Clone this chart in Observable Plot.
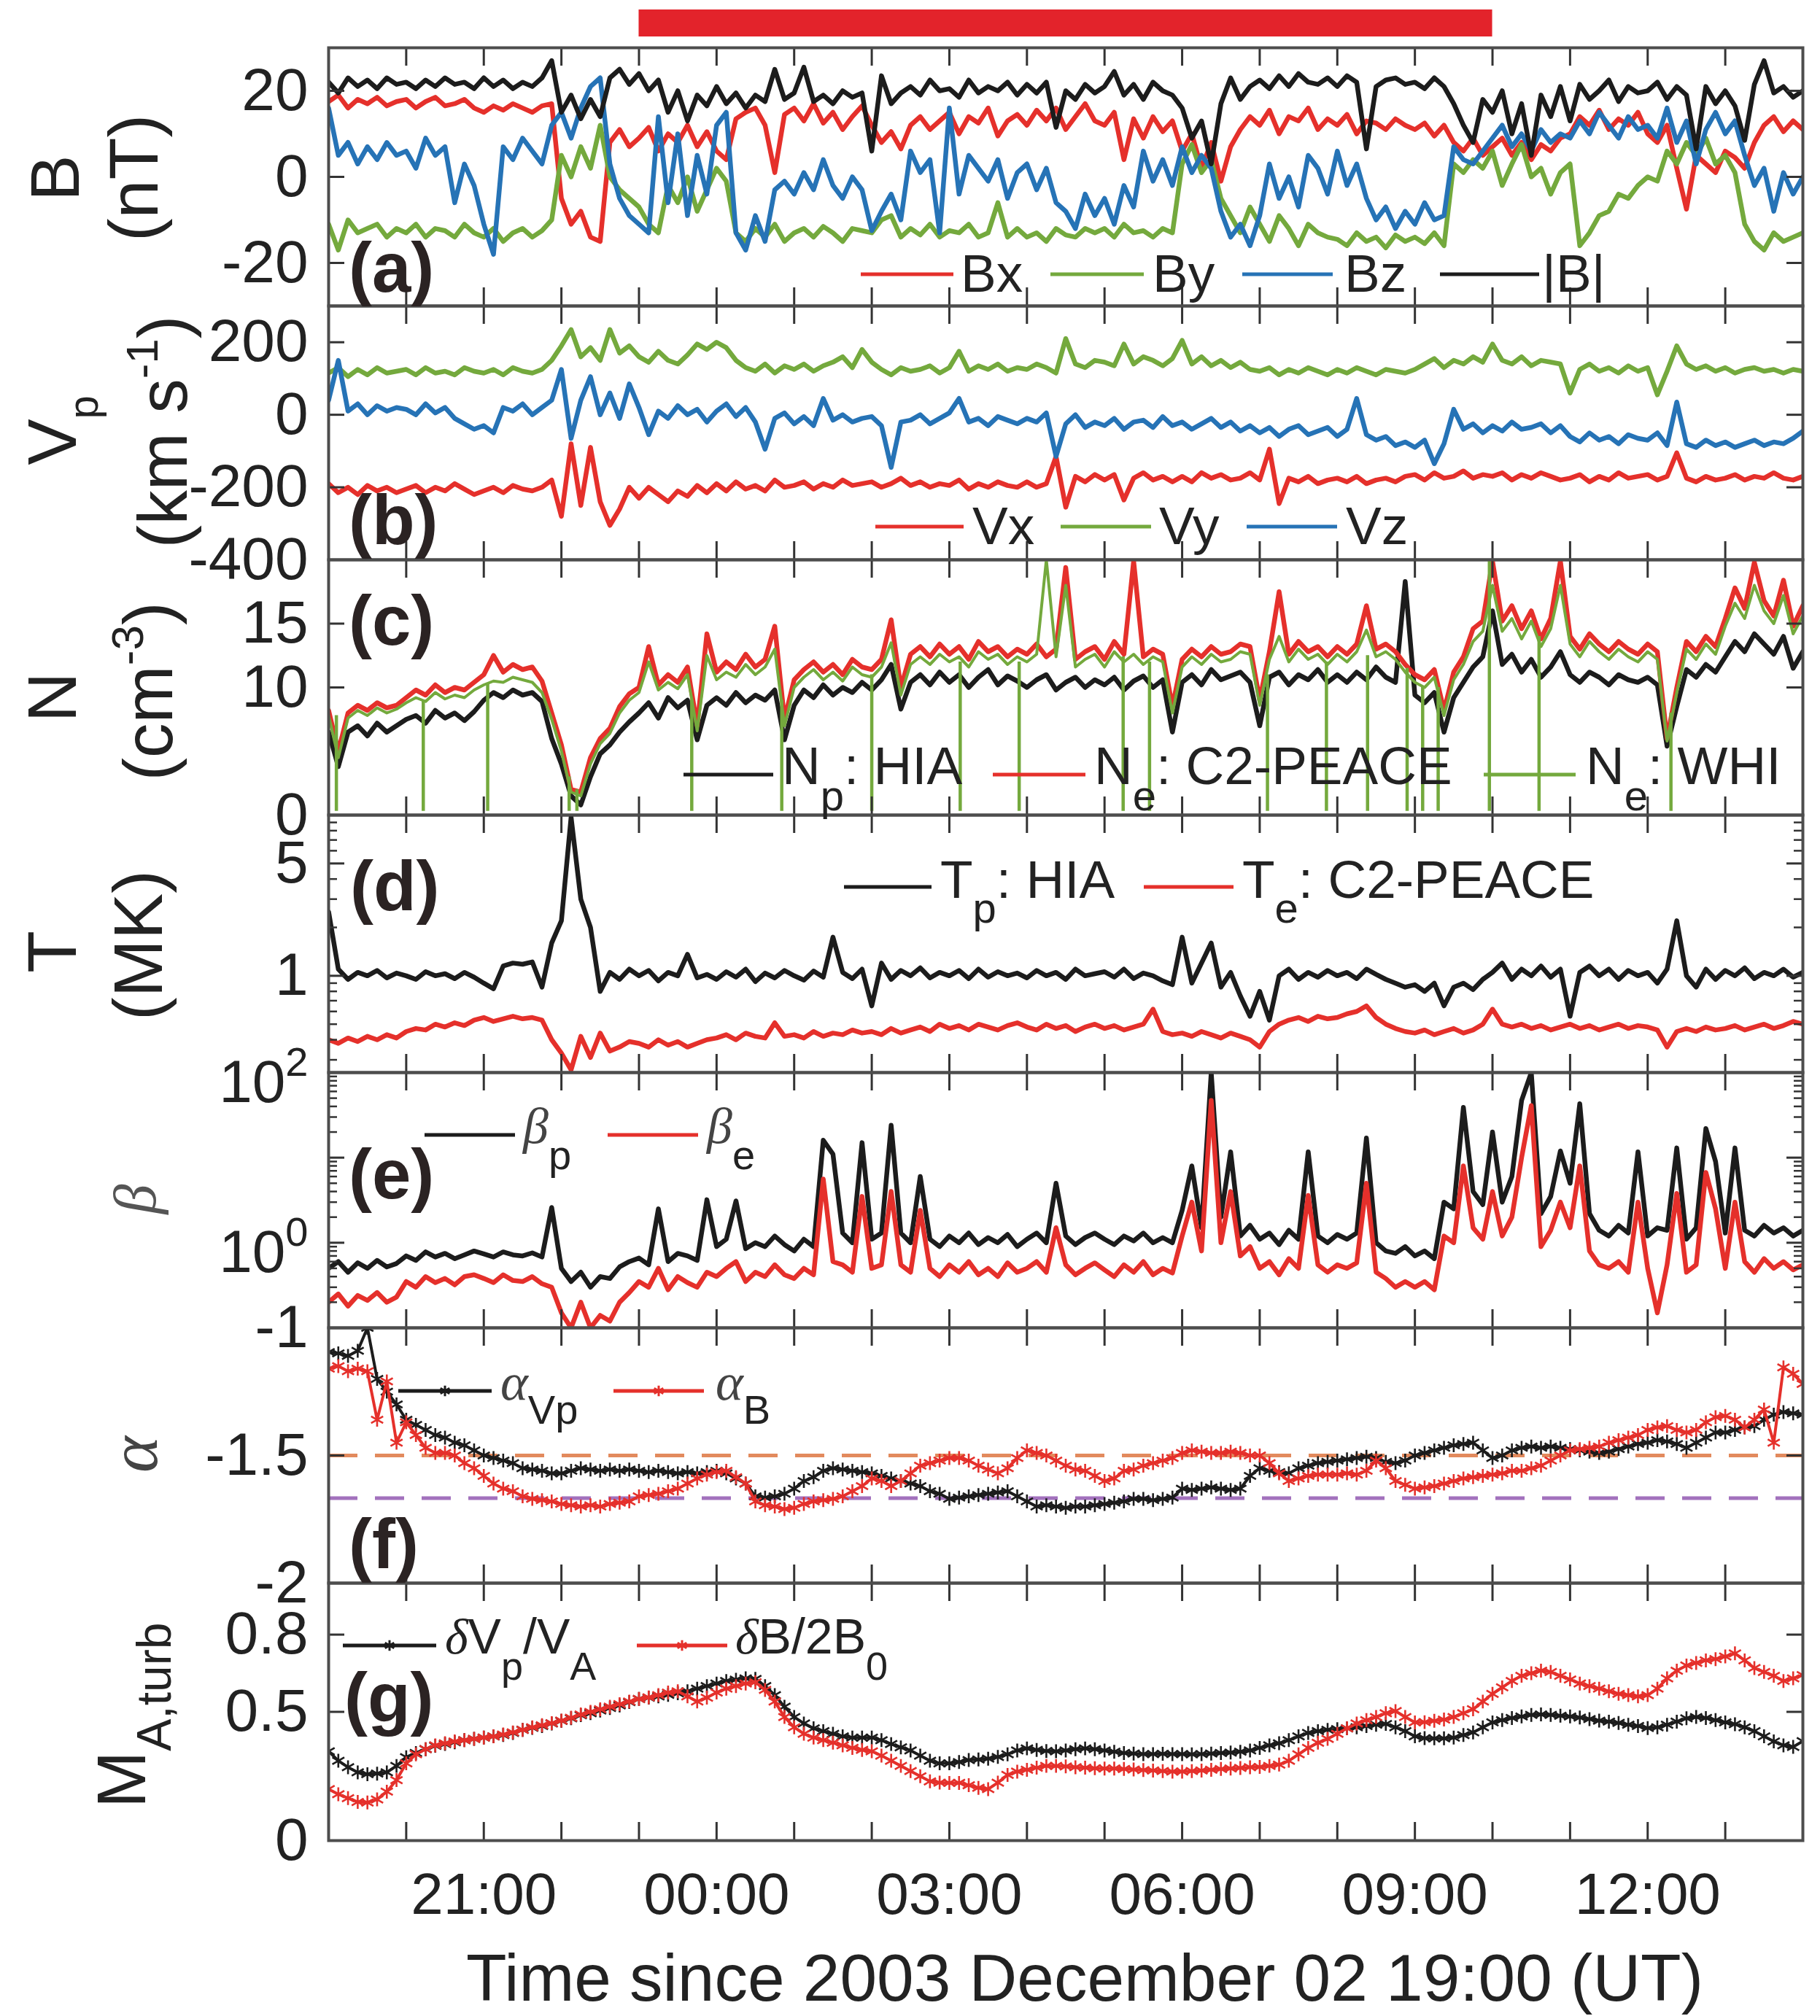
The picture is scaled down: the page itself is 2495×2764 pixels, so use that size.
<!DOCTYPE html>
<html><head><meta charset="utf-8">
<script src="https://cdn.jsdelivr.net/npm/d3@7"></script>
<script src="https://cdn.jsdelivr.net/npm/@observablehq/plot@0.6"></script>
<style>
body{margin:0;background:#fff;}
#page{position:relative;width:2495px;height:2764px;background:#fff;}
</style></head><body><div id="page"></div>
<script>
// ---------- data (hours since 2003-12-02 19:00 UT; samples every STEP hours) ----------
const STEP = 0.125;
const redBar = [{start: 4, end: 15}];           // 23:00 -> 10:00
const hourTicks = [1,2,3,4,5,6,7,8,9,10,11,12,13,14,15,16,17,18];
const timeTickHours = [2,5,8,11,14,17];
const timeTickLabels = ["21:00","00:00","03:00","06:00","09:00","12:00"];

// (a) magnetic field, nT
const bMag = [22,19.5,23,21,22.5,20.5,23,21.5, 22,20.5,22.5,21,23,21.5,22,20.5, 23,21,22.5,20.5,22,21,23,27,
  15,19,13.5,18,14,23,25,21.5, 24,20,22.5,15,20,13,19,16.5, 21,17,19.5,16,19,17.5,25,18,
  19.5,25.5,17.5,19,17,20,18.5,19.5, 6,23.5,17,19.5,21,19,22.5,20, 20.5,18.5,22.5,19.5,21,20,22,19,
  21.5,19.5,22,11.5,20,18,21.5,19.5, 21,24.5,19,21.5,18,22,20,19, 16,9,13,3,17,23,18,21,
  22.5,20.5,23.5,21,24,22,21.5,23, 21,23.5,22,6.5,21,22.5,23,21.5, 22,20.5,23,21,17,12,8,18,
  15,20,10,17,5,19,14,21, 13,21.5,18,20,22.5,17.5,21,19.5, 20,22,18,21,19,6.5,21,17,
  20,16.5,8.5,21.5,27,19.5,21,18.5, 20];
const bx = [17.5,19,16,18,17,18.5,16.5,17.5, 18,16,17.5,18.5,16.5,17,18,16, 15,16.5,15.5,17,16,15,16.5,17,
  -5,-11,-8,-14,-15,8,11,7, 9,11.5,6,10,8,12,7,10.5, 6,4,13.5,15,16,12,1,14.5,
  16,13,17,12.5,15,11,14,16.5, 12,8,10.5,6.5,12,14,11,13, 15,10,14,12.5,16,9.5,13,14.5,
  12,15.5,13,16,11,14,17,13, 12,15,4,13.5,9,14,10.5,13, 6,10,2,8,-1,7,11,14,
  12,15.5,10,14,13,16,11,13.5, 12,14.5,10,13,12.5,11,13.5,12, 11,12.5,9.5,12,8,6,9,5,
  7,9,5,8,4,7.5,6,9, 10,14,12,15.5,11,13.5,12,15, 10,8,12,2,-7.5,5,3,1,
  6,4.5,2,8,12,14,10.5,13, 11];
const by = [-11,-17,-10,-13,-12,-11,-14,-12, -13,-11,-14,-12,-12.5,-14,-11,-13, -14,-12,-15,-13,-12,-14,-12.5,-10,
  5,0,7,2,12,0,-3,-5, -7,-11,-13,-2,-6,0,-8,-3, 2,-1,-13,-15,-12,-14,-11,-15,
  -13,-12,-14,-11.5,-13,-15,-12,-12.5, -13,-10,-9,-14,-12,-13.5,-11,-14, -12.5,-13,-11,-14,-13,-6,-14,-12,
  -14,-13,-15,-12,-13.5,-14,-12,-13, -12,-14,-11,-13,-12.5,-14,-12,-13, 3,7.5,1,4,-5,-9,-13,-7,
  -11,-15,-9,-12,-16,-11,-13,-14, -14.5,-16,-13,-15,-14,-16.5,-13.5,-15, -14,-15.5,-13,-16,3,1,4,2,
  6,-2,3,7.5,0,2,-4,1, 3,-16,-13,-9,-8,-4,-5,-2, 0,-1,6,3,8,5,9,3,
  5,1,-11,-15,-17,-13,-15,-14, -13];
const bz = [16,5,8,3,7,4,8,5, 6,2,9,5,7,-6,3,-2, -11,-18,7,4,9,6,3,12,
  15,9,16,21,23,3,-5,-9, -11,-13,14,-6,10,-9,5,-4, 12,15,-13,-17,-9,-15,-3,-1,
  -4,1,-3,4,-2,-5,0,-3, -12.5,-8,-4,-10,6,1,4,-13, 16,-4,5,2,-1,4,-5,1,
  3,-3,2,-6,-8,-12,-4,-9, -5,-11,-2,-7,6,-1,4,-2, 7,1,5,2,-8,-14,-11,-16,
  -9,3,-5,0,-7,5,2,-4, 6,-2,3,-5,-10,-7,-12,-8, -11,-6,-10,-9,7,4,3,6,
  9,12,7,10,6,11,8,10, 9,13,10,15,12,9,14,11, 12,9,16,8,13,3,11,15,
  10,13,5,-2,2,-8,1,-4, 0];

// (b) proton velocity, km/s
const vx = [-190,-215,-200,-220,-195,-210,-200,-215, -205,-195,-215,-200,-210,-190,-205,-220, -210,-200,-215,-195,-205,-210,-200,-180,
  -280,-80,-250,-90,-240,-305,-260,-200, -230,-200,-220,-240,-210,-225,-195,-215, -190,-210,-185,-205,-195,-210,-180,-200,
  -195,-185,-205,-190,-200,-180,-195,-190, -185,-200,-190,-175,-195,-185,-200,-190, -195,-180,-205,-190,-200,-185,-195,-200,
  -185,-200,-190,-115,-255,-170,-185,-165, -180,-165,-235,-175,-160,-180,-170,-185, -170,-185,-160,-175,-165,-180,-175,-160,
  -180,-95,-245,-175,-185,-170,-190,-180, -175,-185,-170,-190,-180,-175,-185,-170, -165,-180,-160,-175,-170,-155,-175,-165,
  -170,-160,-180,-165,-175,-160,-170,-180, -175,-165,-185,-170,-180,-160,-175,-170, -165,-180,-170,-105,-175,-185,-170,-180,
  -175,-165,-180,-170,-175,-160,-175,-180, -170];
const vy = [115,130,105,125,110,130,115,120, 125,110,130,115,120,110,130,120, 115,125,110,130,120,115,125,150,
  190,235,160,185,150,235,170,190, 160,145,175,150,140,165,195,180, 200,185,150,130,120,140,115,135,
  125,140,120,135,145,160,130,180, 145,125,110,130,120,125,135,115, 130,175,120,135,125,140,120,130,
  125,140,130,115,210,140,130,150, 145,135,195,140,160,150,135,155, 205,140,160,135,150,130,145,125,
  120,130,110,125,115,130,120,110, 125,115,130,120,110,125,120,115, 125,140,155,130,150,140,160,145,
  195,150,140,160,135,150,145,140, 60,125,140,120,130,115,135,120, 130,55,120,190,140,125,135,120,
  130,115,125,130,120,125,115,125, 120];
const vz = [40,150,10,30,0,25,10,20, 15,0,30,5,20,-10,-25,-40, -30,-50,20,10,30,0,20,40,
  125,-65,40,105,0,60,-10,85, 20,-55,10,-10,25,0,15,-20, 10,30,-5,20,-20,-95,-10,5,
  -25,-5,-30,45,-15,0,-20,-10, -5,-30,-145,-20,-15,0,-25,-10, 5,45,-20,-10,-30,-5,-15,-25,
  -10,-20,5,-115,-25,0,-35,-20, -30,-10,-40,-20,-15,-35,-5,-30, -20,-40,-25,-10,-35,-20,-45,-30,
  -50,-35,-60,-40,-30,-55,-45,-35, -60,-40,45,-55,-70,-60,-85,-75, -90,-70,-135,-80,15,-40,-25,-50,
  -30,-45,-20,-40,-35,-25,-50,-30, -60,-75,-50,-70,-60,-80,-55,-65, -70,-50,-85,35,-80,-90,-70,-85,
  -75,-90,-80,-70,-85,-75,-80,-65, -45];

// (c) densities, cm^-3
const np = [6.5,3.8,6.5,7,6.2,7.2,6.5,7, 7.5,7.8,7.2,8.2,7.6,8,7.4,8.1, 9,9.6,9.2,9.8,9.4,9.6,8.9,6,
  4,1.5,0.8,3,4.8,5.5,6.5,7.3, 8,8.8,7.6,9.2,8.4,9,5.9,8.6, 9.2,8.6,9.6,8.8,9.4,9,9.8,5.9,
  8.6,9.8,9.2,10.2,9.4,10,9.6,10.4, 9.8,10.6,11.8,8.3,10.4,11,10.2,11.2, 10.4,11,10,10.8,11.4,10.2,10.9,10.5,
  10,10.6,11,9.8,10.4,10.8,10,10.6, 10.2,10.8,9.8,10.5,10.9,10,10.6,6.5, 10.4,11,10.2,11.4,10.6,10.9,11.2,10.4,
  7,10.8,11.2,10.2,11,10.6,11.4,10.4, 11,10.4,11.2,10.6,11.6,10.8,10.4,18.3, 9.4,8.8,9.6,6.5,9.2,10.4,11.6,12.4,
  16,11.8,12.6,11.2,12.2,10.8,11.6,12.8, 11,10.4,11.2,10.8,10.2,11,10.6,10.4, 10.8,10.2,5.4,8.5,11.4,10.8,11.8,11.2,
  12.4,13.6,12.8,14.2,13.4,12.6,14,11.5, 12.8];
const nePeace = [8.2,5,8,8.6,8.2,8.8,8.4,8.6, 9.2,9.8,9.4,10.2,9.6,10,9.8,10.4, 11,12.5,11.2,11.8,11.4,11.6,10.5,8,
  5.5,2,1.8,4.5,6,6.8,8.5,9.5, 10,13.2,10.2,11,10.4,11.6,7,14.2, 11.2,12,11.4,12.6,11.6,12.2,14.8,7.5,
  10.6,11.4,12,11.2,11.8,11,12.2,11.6, 11.4,12.2,15.3,10,12.6,13.2,12.4,13.4, 12.6,13.2,12.2,13.6,12.8,13.2,12.4,13,
  12.6,13.4,12.4,13,19.4,12.2,12.8,13.2, 12.2,13.6,12.6,19.9,12.4,13,12.6,8.5, 12.2,13,12.4,13.2,12.6,12.8,13.4,13.2,
  9,12.8,17.5,12.6,13.6,12.8,13.2,12.4, 13.2,12.6,13.4,16.4,13,13.4,12.8,11.8, 11,10.6,11.4,8.2,11.2,12.4,14.6,15.2,
  19.9,15.2,16.4,14.6,16,13.8,15.4,19.9, 14,13,14.2,13.4,12.8,13.6,13,12.6, 13.4,12.8,6,10,13.6,12.8,14,13.2,
  15.4,17.8,16.2,19.8,16.8,15.6,18.4,14.8, 16.4];
const neWhi = [7.8,4.5,7.6,8.2,7.8,8.4,8,8.3, 8.8,9.2,8.9,9.6,9.1,9.4,9.2,9.8, 10.2,10.5,10.4,10.8,10.6,10.4,9.6,7.5,
  5,1.8,1.5,4,5.6,6.4,8,9, 9.6,12,9.8,10.4,9.9,11,6.6,12.5, 10.6,11.2,10.8,11.8,11,11.6,13,7,
  10,10.8,11.4,10.6,11.2,10.5,11.6,11, 10.8,11.6,13.5,9.4,11.8,12.4,11.8,12.6, 12,12.4,11.6,12.8,12.2,12.6,11.8,12.4,
  12,12.6,20,12.4,18,11.6,12.2,12.6, 11.6,12.8,12,12.6,11.8,12.4,12,8, 11.6,12.4,11.8,12.6,12,12.2,12.8,12.6,
  8.6,12.2,14,12,13,12.2,12.6,11.8, 12.6,12,12.8,14.5,12.4,12.8,12.2,11.2, 10.4,10,10.8,7.8,10.6,11.8,13.6,14.4,
  18,14.4,15.4,13.8,15.2,13.2,14.6,18, 13.4,12.4,13.6,12.8,12.2,13,12.4,12, 12.8,12.2,5.8,9.6,13,12.2,13.4,12.6,
  14.8,16.6,15.4,18,16,15,17.2,14.2, 15.6];
const whiDropTimes = [0.1,1.22,2.05,3.1,3.2,4.68,5.84,7.0,8.14,8.9,10.24,10.58,12.1,12.86,13.39,13.9,14.1,14.3,14.96,15.6,17.3];
const whiDropTops  = [7.8,9,10.3,3,2,9,9,11,12,12,12.4,12,11,12,12.5,11.5,10,10,20,14,8];

// (d) temperatures, MK
const tp = [2.5,1.1,0.95,1.05,1.0,1.08,0.97,1.04, 1.0,0.95,1.06,1.0,1.03,0.96,1.05,0.98, 0.9,0.83,1.15,1.2,1.18,1.22,0.85,1.6,
  2.2,9.7,3,2.0,0.8,1.05,0.95,1.1, 1.0,1.08,0.93,1.05,1.0,1.36,0.97,1.02, 0.95,1.06,0.98,1.1,0.92,1.04,0.97,1.08,
  1.0,0.94,1.07,0.98,1.74,1.05,0.96,1.1, 0.65,1.2,0.95,1.08,1.0,1.12,0.97,1.05, 1.0,1.08,0.96,1.1,0.98,1.06,1.0,1.04,
  0.97,1.08,1.0,1.05,0.95,1.1,1.0,1.03, 1.06,0.98,1.1,0.96,1.04,1.0,0.93,0.88, 1.74,0.9,1.2,1.6,0.85,1.05,0.75,0.56,
  0.8,0.53,1.0,1.1,0.95,1.05,0.98,1.08, 1.0,1.05,0.96,1.1,1.02,0.95,0.9,0.85, 0.88,0.8,0.9,0.65,0.85,0.9,0.82,0.95,
  1.05,1.2,0.95,1.1,1.0,1.15,0.98,1.1, 0.56,1.05,1.15,1.0,1.1,0.95,1.08,1.0, 1.05,0.9,1.1,2.2,1.0,0.85,1.1,0.95,
  1.08,1.0,1.12,0.96,1.05,1.0,1.1,0.98, 1.05];
const te = [0.4,0.38,0.41,0.39,0.42,0.4,0.43,0.41, 0.45,0.47,0.46,0.5,0.48,0.51,0.49,0.53, 0.55,0.52,0.54,0.56,0.54,0.55,0.53,0.4,
  0.33,0.26,0.42,0.31,0.44,0.34,0.36,0.39, 0.38,0.36,0.4,0.37,0.39,0.36,0.38,0.4, 0.41,0.43,0.4,0.44,0.42,0.41,0.51,0.42,
  0.43,0.41,0.45,0.42,0.44,0.43,0.46,0.44, 0.45,0.43,0.47,0.44,0.46,0.48,0.45,0.5, 0.47,0.49,0.46,0.5,0.48,0.46,0.49,0.51,
  0.48,0.46,0.5,0.47,0.49,0.45,0.48,0.5, 0.47,0.49,0.46,0.48,0.5,0.62,0.45,0.43, 0.44,0.42,0.45,0.43,0.41,0.44,0.42,0.4,
  0.36,0.45,0.5,0.53,0.55,0.52,0.56,0.54, 0.55,0.58,0.6,0.65,0.55,0.5,0.47,0.45, 0.44,0.46,0.43,0.45,0.47,0.44,0.46,0.5,
  0.62,0.5,0.48,0.5,0.47,0.49,0.46,0.48, 0.5,0.47,0.49,0.46,0.48,0.5,0.47,0.49, 0.48,0.46,0.36,0.45,0.47,0.45,0.48,0.46,
  0.47,0.49,0.46,0.48,0.5,0.47,0.49,0.52, 0.5];

// (e) plasma beta
const betaP = [0.5,0.6,0.45,0.58,0.5,0.62,0.52,0.57, 0.7,0.62,0.78,0.68,0.75,0.65,0.72,0.8, 0.74,0.68,0.78,0.72,0.7,0.76,0.68,2.6,
  0.5,0.35,0.45,0.3,0.4,0.38,0.52,0.6, 0.66,0.55,2.5,0.6,0.75,0.7,0.62,3.2, 0.9,1.1,3.1,0.85,1.0,0.9,1.2,0.95,
  0.8,1.1,0.9,16,11,1.3,1.0,15, 1.1,1.3,24,1.3,1.0,6,1.1,0.9, 1.2,1.0,1.3,0.95,1.15,1.0,1.25,0.9,
  1.1,1.3,1.0,5,1.2,0.95,1.15,1.3, 1.1,0.95,1.2,1.05,1.3,1.0,1.15,1.0, 2.4,8,1.5,100,2,11.7,1.2,1.6,
  1.1,1.3,0.95,1.4,1.1,11.7,1.2,1.0, 1.25,1.1,1.3,17,1.0,0.8,0.75,0.9, 0.7,0.8,0.65,3,2.5,39,4,2.8,
  20,3,6,47,100,2.2,3.5,12, 5,43,2.2,1.4,1.2,1.6,1.3,11.7, 1.2,1.5,1.4,13,1.1,1.5,22,9,
  1.3,13,1.4,1.2,1.6,1.3,1.5,1.2, 1.4];
const betaE = [0.2,0.25,0.18,0.24,0.21,0.26,0.2,0.23, 0.35,0.3,0.4,0.34,0.38,0.32,0.4,0.42, 0.38,0.34,0.42,0.36,0.35,0.4,0.33,0.3,
  0.15,0.1,0.2,0.1,0.14,0.12,0.2,0.26, 0.35,0.3,0.5,0.28,0.4,0.34,0.3,0.45, 0.4,0.5,0.6,0.35,0.45,0.4,0.55,0.42,
  0.38,0.5,0.42,5.6,0.6,0.55,0.45,3.5, 0.5,0.55,4,0.55,0.45,2.4,0.5,0.4, 0.55,0.45,0.6,0.42,0.5,0.4,0.58,0.45,
  0.5,0.6,0.45,1.5,0.55,0.42,0.5,0.58, 0.48,0.4,0.55,0.45,0.6,0.42,0.5,0.44, 1.2,3,0.8,47,1,4,0.7,0.9,
  0.5,0.6,0.42,0.65,0.5,3.6,0.55,0.45, 0.55,0.5,0.58,5,0.45,0.38,0.3,0.35, 0.3,0.35,0.28,1.2,1,8,1.5,1.1,
  4,1.2,2,10,41,0.9,1.4,3, 1.5,8,0.8,0.55,0.5,0.6,0.45,3, 0.5,0.15,0.55,3.8,0.45,0.55,6.7,2.5,
  0.5,3,0.6,0.45,0.65,0.5,0.6,0.48, 0.55];

// (f) spectral indices
const alphaVp = [-1.095,-1.10,-1.11,-1.09,-1.0,-1.20,-1.25,-1.30, -1.36,-1.38,-1.40,-1.42,-1.43,-1.45,-1.46,-1.48,
  -1.50,-1.51,-1.52,-1.53,-1.55,-1.555,-1.56,-1.57, -1.57,-1.56,-1.55,-1.555,-1.56,-1.555,-1.56,-1.555,
  -1.56,-1.565,-1.56,-1.565,-1.57,-1.565,-1.57,-1.565, -1.56,-1.57,-1.59,-1.61,-1.66,-1.665,-1.66,-1.65,
  -1.63,-1.60,-1.585,-1.56,-1.55,-1.555,-1.56,-1.565, -1.57,-1.58,-1.59,-1.60,-1.61,-1.62,-1.64,-1.65,
  -1.67,-1.665,-1.66,-1.655,-1.65,-1.645,-1.64,-1.66, -1.68,-1.70,-1.695,-1.70,-1.705,-1.70,-1.70,-1.695,
  -1.69,-1.685,-1.68,-1.67,-1.67,-1.675,-1.67,-1.665, -1.63,-1.635,-1.63,-1.625,-1.63,-1.635,-1.63,-1.58,
  -1.55,-1.56,-1.565,-1.57,-1.55,-1.54,-1.53,-1.525, -1.52,-1.515,-1.51,-1.505,-1.51,-1.525,-1.53,-1.52,
  -1.50,-1.49,-1.48,-1.47,-1.46,-1.455,-1.45,-1.48, -1.51,-1.50,-1.48,-1.47,-1.465,-1.47,-1.465,-1.47,
  -1.475,-1.48,-1.485,-1.49,-1.485,-1.475,-1.465,-1.455, -1.45,-1.44,-1.445,-1.455,-1.47,-1.45,-1.43,-1.41,
  -1.41,-1.40,-1.39,-1.385,-1.36,-1.34,-1.33,-1.335, -1.34];
const alphaB = [-1.16,-1.15,-1.17,-1.16,-1.17,-1.36,-1.21,-1.45, -1.37,-1.42,-1.47,-1.49,-1.49,-1.50,-1.53,-1.55,
  -1.58,-1.61,-1.63,-1.64,-1.66,-1.67,-1.675,-1.68, -1.69,-1.695,-1.70,-1.695,-1.70,-1.69,-1.685,-1.68,
  -1.66,-1.655,-1.65,-1.64,-1.63,-1.61,-1.59,-1.575, -1.565,-1.56,-1.585,-1.61,-1.68,-1.695,-1.70,-1.71,
  -1.705,-1.69,-1.68,-1.675,-1.67,-1.66,-1.64,-1.62, -1.59,-1.60,-1.62,-1.60,-1.57,-1.54,-1.53,-1.52,
  -1.51,-1.51,-1.52,-1.54,-1.555,-1.57,-1.55,-1.51, -1.48,-1.49,-1.50,-1.52,-1.54,-1.555,-1.56,-1.58,
  -1.60,-1.59,-1.56,-1.555,-1.54,-1.53,-1.52,-1.51, -1.49,-1.48,-1.485,-1.49,-1.49,-1.485,-1.49,-1.50,
  -1.50,-1.53,-1.57,-1.60,-1.59,-1.58,-1.575,-1.575, -1.575,-1.57,-1.575,-1.56,-1.52,-1.55,-1.60,-1.615,
  -1.63,-1.625,-1.62,-1.61,-1.60,-1.59,-1.585,-1.58, -1.575,-1.57,-1.56,-1.56,-1.55,-1.54,-1.52,-1.50,
  -1.48,-1.475,-1.47,-1.465,-1.45,-1.44,-1.43,-1.42, -1.40,-1.39,-1.385,-1.40,-1.41,-1.40,-1.37,-1.35,
  -1.345,-1.36,-1.39,-1.36,-1.32,-1.45,-1.155,-1.18, -1.22];
const refSlopes = [{v: -1.5, c: "#e28a5d"}, {v: -1.667, c: "#a271bd"}];

// (g) turbulent Alfven Mach number
const machV = [0.347,0.31,0.285,0.265,0.258,0.26,0.265,0.29, 0.324,0.34,0.355,0.368,0.375,0.382,0.39,0.395,
  0.40,0.405,0.41,0.418,0.43,0.438,0.445,0.455, 0.465,0.475,0.487,0.495,0.505,0.515,0.525,0.538,
  0.55,0.555,0.56,0.566,0.572,0.58,0.59,0.60, 0.61,0.62,0.625,0.63,0.628,0.60,0.565,0.52,
  0.48,0.455,0.436,0.425,0.415,0.405,0.40,0.40, 0.40,0.39,0.375,0.362,0.35,0.33,0.31,0.30,
  0.30,0.305,0.313,0.315,0.318,0.325,0.335,0.35, 0.358,0.352,0.348,0.347,0.35,0.355,0.358,0.355,
  0.35,0.345,0.34,0.338,0.336,0.336,0.337,0.336, 0.336,0.335,0.336,0.338,0.34,0.342,0.345,0.35,
  0.36,0.37,0.378,0.39,0.405,0.418,0.425,0.43, 0.433,0.436,0.44,0.445,0.45,0.453,0.44,0.425,
  0.405,0.398,0.397,0.397,0.40,0.41,0.42,0.44, 0.459,0.468,0.476,0.482,0.488,0.49,0.488,0.485,
  0.482,0.478,0.472,0.466,0.462,0.457,0.45,0.445, 0.437,0.44,0.45,0.462,0.475,0.48,0.476,0.468,
  0.459,0.452,0.44,0.425,0.405,0.385,0.37,0.364, 0.386];
const machB = [0.20,0.18,0.165,0.15,0.148,0.16,0.19,0.235, 0.30,0.335,0.355,0.37,0.378,0.385,0.39,0.395,
  0.40,0.405,0.412,0.42,0.43,0.44,0.448,0.456, 0.466,0.477,0.49,0.50,0.51,0.52,0.53,0.54,
  0.55,0.556,0.565,0.575,0.58,0.56,0.54,0.555, 0.575,0.59,0.60,0.61,0.615,0.585,0.54,0.48,
  0.44,0.415,0.40,0.39,0.38,0.37,0.36,0.352, 0.347,0.33,0.31,0.29,0.27,0.25,0.23,0.225,
  0.224,0.224,0.215,0.205,0.20,0.225,0.255,0.268, 0.275,0.283,0.29,0.29,0.288,0.285,0.283,0.281,
  0.28,0.28,0.278,0.276,0.274,0.272,0.27,0.268, 0.268,0.27,0.272,0.275,0.278,0.28,0.282,0.285,
  0.286,0.29,0.295,0.31,0.335,0.36,0.38,0.395, 0.415,0.436,0.455,0.468,0.48,0.495,0.503,0.48,
  0.459,0.46,0.465,0.47,0.48,0.495,0.51,0.54, 0.57,0.595,0.62,0.64,0.65,0.66,0.655,0.64,
  0.626,0.61,0.60,0.59,0.58,0.57,0.565,0.56, 0.565,0.59,0.63,0.66,0.68,0.69,0.70,0.705,
  0.715,0.727,0.70,0.67,0.655,0.64,0.62,0.63, 0.643];

// ---------- drawing ----------
const SANS = "'Liberation Sans', Arial, Helvetica, sans-serif";
const SERIF = "'Liberation Serif', 'DejaVu Serif', serif";
const COL = {red: "#e5302b", green: "#74a93d", blue: "#2673b6", black: "#1c1c1c"};
const W = 2495, L = 450, R = 2471;
const tops = [65, 419, 767, 1117, 1470, 1820, 2170, 2523];
const page = document.getElementById("page");
const ser = vals => vals.map((v, i) => ({t: i * STEP, v}));
const line = (vals, c, w = 6.5) => Plot.line(ser(vals), {x: "t", y: "v", stroke: c, strokeWidth: w, clip: true, strokeLinejoin: "round"});
const stars = (vals, c) => Plot.dot(ser(vals), {x: "t", y: "v", symbol: "asterisk", r: 9, stroke: c, strokeWidth: 2.6, clip: true});
const baseStyle = {fontFamily: SANS, overflow: "visible", background: "transparent", color: "#222", maxWidth: "none"};

function place(svg, top) {
  svg.style.position = "absolute"; svg.style.left = "0px"; svg.style.top = top + "px";
  page.append(svg);
}

function addPanel(i, cfg) {
  const top = tops[i], h = tops[i + 1] - top, pw = R - L;
  const tk = {stroke: "#333", strokeWidth: 3};
  const marks = [...cfg.marks,
    Plot.ruleX(hourTicks, {x: d => d, insetBottom: h - 25, ...tk}),
    Plot.ruleX(hourTicks, {x: d => d, insetTop: h - 25, ...tk}),
    Plot.ruleY(cfg.major, {y: d => d, insetRight: pw - 22, ...tk}),
    Plot.ruleY(cfg.major, {y: d => d, insetLeft: pw - 22, ...tk})];
  if (cfg.minor) marks.push(
    Plot.ruleY(cfg.minor, {y: d => d, insetRight: pw - 12, stroke: "#333", strokeWidth: 2.5}),
    Plot.ruleY(cfg.minor, {y: d => d, insetLeft: pw - 12, stroke: "#333", strokeWidth: 2.5}));
  marks.push(Plot.axisY({ticks: cfg.labels, tickSize: 0, tickPadding: 28, tickFormat: cfg.fmt || (d => String(d)),
    fontSize: 82, fill: "#222", label: null}));
  if (cfg.xaxis) marks.push(Plot.axisX({ticks: timeTickHours, tickSize: 0, tickPadding: 44,
    tickFormat: d => timeTickLabels[timeTickHours.indexOf(d)], fontSize: 80, fill: "#222", label: null}));
  marks.push(Plot.frame({stroke: "#4d4d4d", strokeWidth: 4}));
  const svg = Plot.plot({width: W, height: h, marginLeft: L, marginRight: W - R, marginTop: 0, marginBottom: 0,
    x: cfg.xaxis ? {domain: [0, 19]} : {domain: [0, 19], axis: null}, y: cfg.y, style: baseStyle, marks});
  place(svg, top);
  return svg;
}

// red interval bar
place(Plot.plot({width: W, height: 65, marginLeft: L, marginRight: W - R, marginTop: 13, marginBottom: 15,
  x: {domain: [0, 19], axis: null}, style: baseStyle,
  marks: [Plot.rect(redBar, {x1: "start", x2: "end", fill: "#e3232b"})]}), 0);

addPanel(0, {y: {domain: [-30, 30]}, major: [-20, 0, 20], labels: [-20, 0, 20],
  marks: [line(bx, COL.red), line(by, COL.green), line(bz, COL.blue), line(bMag, COL.black)]});
addPanel(1, {y: {domain: [-400, 300]}, major: [-200, 0, 200], labels: [-400, -200, 0, 200],
  marks: [line(vx, COL.red), line(vy, COL.green), line(vz, COL.blue)]});
addPanel(2, {y: {domain: [0, 20]}, major: [10, 15], labels: [0, 10, 15],
  marks: [line(np, COL.black), line(nePeace, COL.red),
    Plot.ruleX(whiDropTimes.map((t, k) => ({t, top: whiDropTops[k]})), {x: "t", y1: 0.3, y2: "top", stroke: COL.green, strokeWidth: 4.5, clip: true}),
    line(neWhi, COL.green, 4)]});
addPanel(3, {y: {type: "log", domain: [0.25, 10]}, major: [1, 5], labels: [1, 5],
  minor: [0.3,0.4,0.5,0.6,0.7,0.8,0.9,2,3,4,6,7,8,9],
  marks: [line(tp, COL.black), line(te, COL.red)]});
const svgE = addPanel(4, {y: {type: "log", domain: [0.1, 100]}, major: [1, 10], labels: [1, 100],
  minor: [0.2,0.3,0.4,0.5,0.6,0.7,0.8,0.9,2,3,4,5,6,7,8,9,20,30,40,50,60,70,80,90],
  fmt: d => d === 100 ? "10^2" : "10^0",
  marks: [line(betaP, COL.black), line(betaE, COL.red)]});
addPanel(5, {y: {domain: [-2, -1]}, major: [-1.5], labels: [-2, -1.5, -1],
  marks: [Plot.ruleY(refSlopes, {y: "v", stroke: "c", strokeWidth: 5, strokeDasharray: "40,24"}),
    line(alphaVp, COL.black, 4), stars(alphaVp, COL.black), line(alphaB, COL.red, 4), stars(alphaB, COL.red)]});
addPanel(6, {y: {domain: [0, 1]}, major: [0.5, 0.8], labels: [0, 0.5, 0.8], xaxis: true,
  marks: [line(machV, COL.black, 4), stars(machV, COL.black), line(machB, COL.red, 4), stars(machB, COL.red)]});

// exponent labels for the beta axis
const NS = "http://www.w3.org/2000/svg";
svgE.querySelectorAll("text").forEach(t => {
  const s = t.textContent;
  if (!s.includes("^")) return;
  const [b, e] = s.split("^");
  t.textContent = "";
  const t1 = document.createElementNS(NS, "tspan"); t1.setAttribute("dy", "14"); t1.textContent = b;
  const t2 = document.createElementNS(NS, "tspan"); t2.setAttribute("dy", "-36"); t2.setAttribute("font-size", "56"); t2.textContent = e;
  t.append(t1, t2);
});

// ---------- overlay: axis titles, panel letters, legends ----------
const ov = d3.select(page).append("svg").attr("width", W).attr("height", 2764)
  .style("position", "absolute").style("left", "0px").style("top", "0px").style("overflow", "visible")
  .attr("font-family", SANS).attr("fill", "#222");

function rich(x, y, parts, size, o = {}) {
  const t = ov.append("text").attr("font-size", size).attr("text-anchor", o.anchor || "start").attr("fill", o.fill || "#222");
  if (o.transform) t.attr("transform", o.transform); else t.attr("x", x).attr("y", y);
  if (o.weight) t.attr("font-weight", o.weight);
  let off = 0;
  for (const p of parts) {
    const q = typeof p === "string" ? {s: p} : p;
    const sh = q.shift || 0;
    const sp = t.append("tspan").attr("dy", sh - off).text(q.s);
    if (q.size) sp.attr("font-size", q.size);
    if (q.serif) sp.attr("font-family", SERIF).attr("font-style", "italic");
    if (q.fill) sp.attr("fill", q.fill);
    off = sh;
  }
  return t;
}
const rot = (x, y) => `translate(${x},${y}) rotate(-90)`;
function legLine(x1, x2, y, c, star) {
  ov.append("line").attr("x1", x1).attr("x2", x2).attr("y1", y).attr("y2", y).attr("stroke", c).attr("stroke-width", 5);
  if (star) ov.append("path").attr("d", d3.symbol(d3.symbolAsterisk, 150)()).attr("transform", `translate(${(x1 + x2) / 2},${y})`)
    .attr("stroke", c).attr("stroke-width", 3).attr("fill", "none");
}

// y-axis titles
rich(0, 0, ["B"], 95, {anchor: "middle", transform: rot(108, 244)});
rich(0, 0, ["(nT)"], 95, {anchor: "middle", transform: rot(216, 244)});
rich(0, 0, ["V", {s: "p", size: 58, shift: 30}], 95, {anchor: "middle", transform: rot(104, 590)});
rich(0, 0, ["(km s", {s: "-1", size: 62, shift: -40}, {s: ")", shift: 0}], 95, {anchor: "middle", transform: rot(256, 592)});
rich(0, 0, ["N"], 95, {anchor: "middle", transform: rot(104, 956)});
rich(0, 0, ["(cm", {s: "-3", size: 62, shift: -40}, {s: ")", shift: 0}], 95, {anchor: "middle", transform: rot(236, 948)});
rich(0, 0, ["T"], 95, {anchor: "middle", transform: rot(104, 1305)});
rich(0, 0, ["(MK)"], 95, {anchor: "middle", transform: rot(222, 1296)});
rich(0, 0, [{s: "β", serif: true}], 82, {anchor: "middle", fill: "#555", transform: rot(213, 1644)});
rich(0, 0, [{s: "α", serif: true}], 95, {anchor: "middle", fill: "#444", transform: rot(215, 1994)});
rich(0, 0, ["M", {s: "A,turb", size: 66, shift: 35}], 94, {anchor: "start", transform: rot(199, 2479)});

// panel letters
[["(a)", 478, 400], ["(b)", 478, 746], ["(c)", 478, 884], ["(d)", 480, 1248], ["(e)", 478, 1643], ["(f)", 478, 2150], ["(g)", 472, 2361]]
  .forEach(([s, x, y]) => rich(x, y, [s], 96, {weight: "bold", fill: "#2b2323"}));

// legends
const LF = 73;
legLine(1180, 1307, 376, COL.red); rich(1317, 400, ["Bx"], LF);
legLine(1440, 1568, 376, COL.green); rich(1580, 400, ["By"], LF);
legLine(1703, 1827, 376, COL.blue); rich(1843, 400, ["Bz"], LF);
legLine(1974, 2110, 376, COL.black); rich(2114, 400, ["|B|"], LF);

legLine(1200, 1321, 722, COL.red); rich(1333, 746, ["Vx"], LF);
legLine(1454, 1578, 722, COL.green); rich(1589, 746, ["Vy"], LF);
legLine(1709, 1833, 722, COL.blue); rich(1845, 746, ["Vz"], LF);

legLine(937, 1060, 1062, COL.black); rich(1072, 1075, ["N", {s: "p", size: 58, shift: 36}, {s: ": HIA", shift: 0}], LF);
legLine(1361, 1488, 1062, COL.red); rich(1500, 1075, ["N", {s: "e", size: 58, shift: 36}, {s: ": C2-PEACE", shift: 0}], LF);
legLine(2034, 2160, 1062, COL.green); rich(2174, 1075, ["N", {s: "e", size: 58, shift: 36}, {s: ": WHI", shift: 0}], LF);

legLine(1157, 1277, 1216, COL.black); rich(1289, 1231, ["T", {s: "p", size: 58, shift: 34}, {s: ": HIA", shift: 0}], LF);
legLine(1568, 1691, 1216, COL.red); rich(1703, 1231, ["T", {s: "e", size: 58, shift: 34}, {s: ": C2-PEACE", shift: 0}], LF);

legLine(582, 706, 1556, COL.black); rich(717, 1567, [{s: "β", serif: true, fill: "#444"}, {s: "p", size: 56, shift: 36}], 70);
legLine(833, 957, 1556, COL.red); rich(969, 1567, [{s: "β", serif: true, fill: "#444"}, {s: "e", size: 56, shift: 36}], 70);

legLine(546, 674, 1907, COL.black, true); rich(686, 1919, [{s: "α", serif: true, fill: "#444"}, {s: "Vp", size: 56, shift: 33}], 72);
legLine(841, 965, 1907, COL.red, true); rich(981, 1919, [{s: "α", serif: true, fill: "#444"}, {s: "B", size: 56, shift: 33}], 72);

legLine(470, 598, 2256, COL.black, true);
rich(610, 2267, [{s: "δ", serif: true}, "V", {s: "p", size: 54, shift: 36}, {s: "/V", shift: 0}, {s: "A", size: 54, shift: 36}], 68);
legLine(873, 997, 2256, COL.red, true);
rich(1008, 2267, [{s: "δ", serif: true}, "B/2B", {s: "0", size: 54, shift: 36}], 68);

// x-axis title
rich(1487, 2743, ["Time since 2003 December 02 19:00 (UT)"], 91, {anchor: "middle"});
</script></body></html>
